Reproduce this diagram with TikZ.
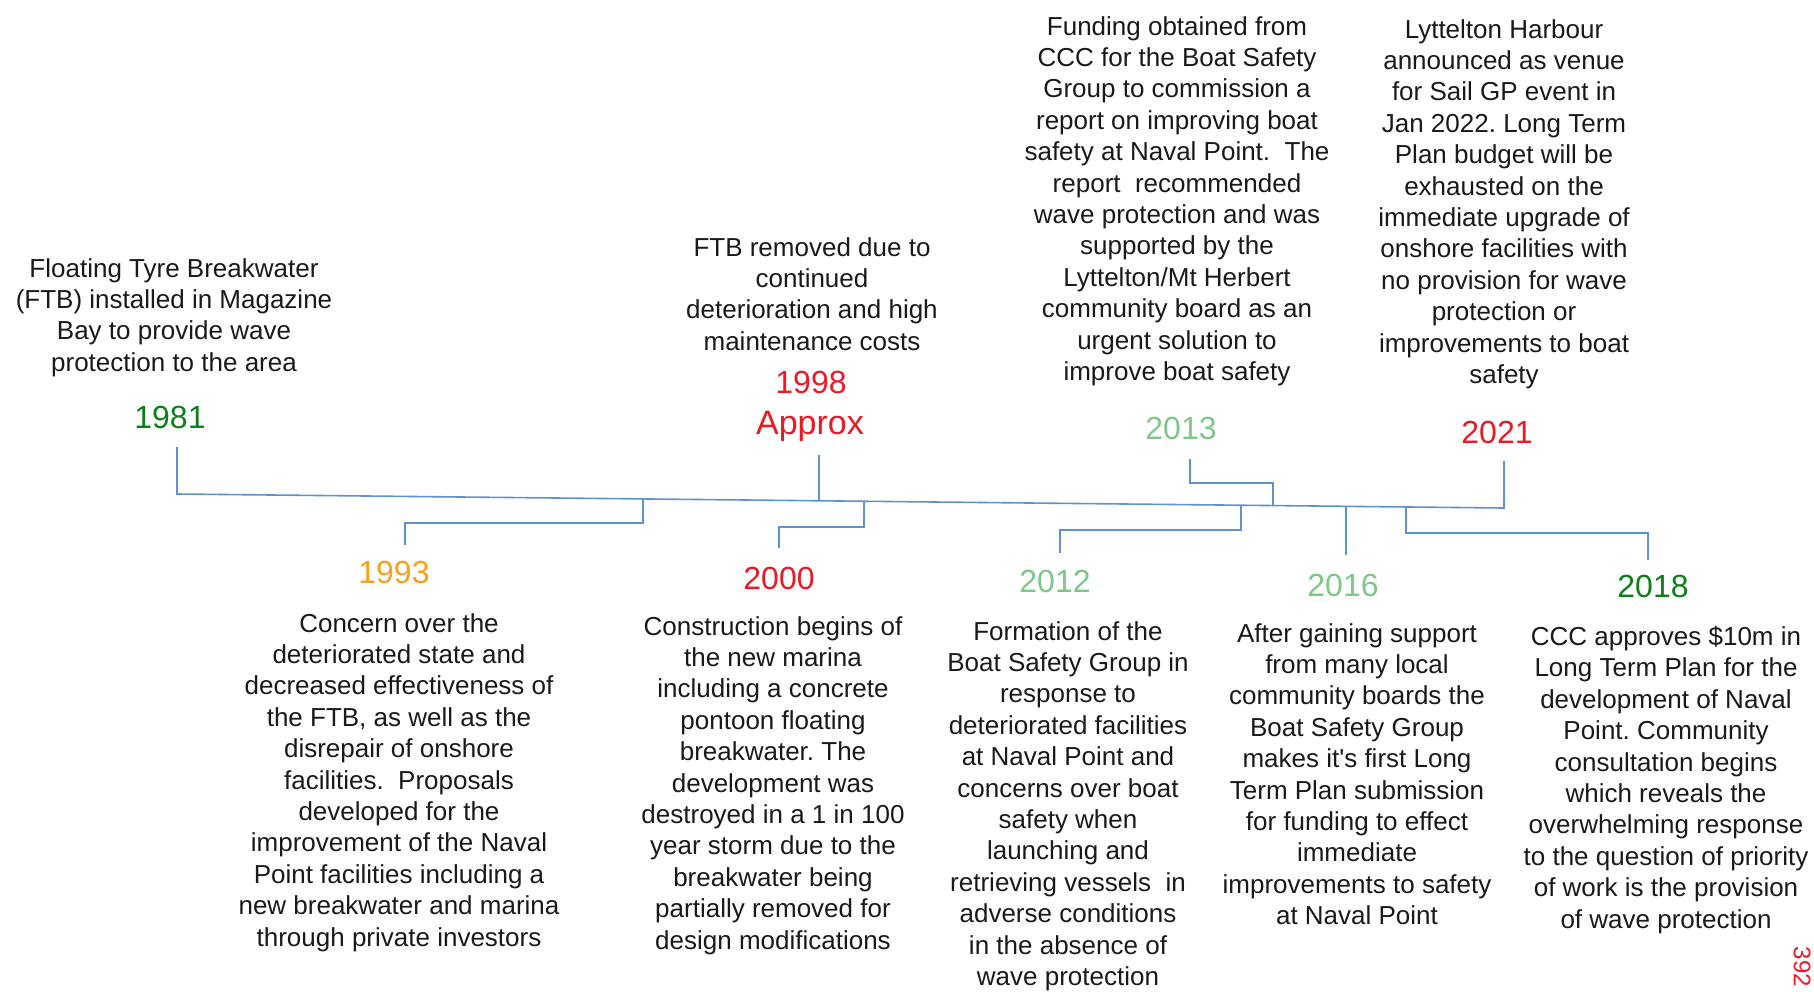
\documentclass[tikz,border=0pt]{standalone}
\usepackage{fontspec}
\setmainfont{Liberation Sans}
\frenchspacing
\definecolor{dkgreen}{RGB}{12,128,24}
\definecolor{yorange}{RGB}{248,160,30}
\definecolor{yred}{RGB}{235,25,35}
\definecolor{ltgreen}{RGB}{125,200,135}
\definecolor{tlblue}{RGB}{95,145,205}
\tikzset{
  desc/.style={font=\fontsize{26}{31.4}\selectfont\frenchspacing, align=center, inner sep=0pt, anchor=north, text=black!90},
  yearlbl/.style={font=\fontsize{32}{38}\selectfont, inner sep=0pt, anchor=base},
  tline/.style={draw=tlblue, line width=1.6pt, line join=miter}
}
\begin{document}
\begin{tikzpicture}[x=1pt,y=-1pt]
\useasboundingbox (0,0) rectangle (1814,991);
% descriptions above
\node[desc] (t1981) at (174,258) {Floating Tyre Breakwater\\(FTB) installed in Magazine\\Bay to provide wave\\protection to the area};
\node[desc] (t1998) at (812,237) {FTB removed due to\\continued\\deterioration and high\\maintenance costs};
\node[desc] (t2013) at (1177,16) {Funding obtained from\\CCC for the Boat Safety\\Group to commission a\\report on improving boat\\safety at Naval Point.~ The\\report~ recommended\\wave protection and was\\supported by the\\Lyttelton/Mt Herbert\\community board as an\\urgent solution to\\improve boat safety};
\node[desc] (t2021) at (1504,19) {Lyttelton Harbour\\announced as venue\\for Sail GP event in\\Jan 2022. Long Term\\Plan budget will be\\exhausted on the\\immediate upgrade of\\onshore facilities with\\no provision for wave\\protection or\\improvements to boat\\safety};
% descriptions below
\node[desc] (t1993) at (399,613) {Concern over the\\deteriorated state and\\decreased effectiveness of\\the FTB, as well as the\\disrepair of onshore\\facilities.~ Proposals\\developed for the\\improvement of the Naval\\Point facilities including a\\new breakwater and marina\\through private investors};
\node[desc] (t2000) at (773,616) {Construction begins of\\the new marina\\including a concrete\\pontoon floating\\breakwater. The\\development was\\destroyed in a 1 in 100\\year storm due to the\\breakwater being\\partially removed for\\design modifications};
\node[desc] (t2012) at (1068,621) {Formation of the\\Boat Safety Group in\\response to\\deteriorated facilities\\at Naval Point and\\concerns over boat\\safety when\\launching and\\retrieving vessels~ in\\adverse conditions\\in the absence of\\wave protection};
\node[desc] (t2016) at (1357,623) {After gaining support\\from many local\\community boards the\\Boat Safety Group\\makes it\textquotesingle s first Long\\Term Plan submission\\for funding to effect\\immediate\\improvements to safety\\at Naval Point};
\node[desc] (t2018) at (1666,626) {CCC approves \$10m in\\Long Term Plan for the\\development of Naval\\Point. Community\\consultation begins\\which reveals the\\overwhelming response\\to the question of priority\\of work is the provision\\of wave protection};
% year labels
\node[yearlbl, text=dkgreen] (y1981) at (170,428) {1981};
\node[yearlbl, text=yred] (y1998) at (811,393) {1998};
\node[yearlbl, text=yred, font=\fontsize{34}{40}\selectfont] (yapprox) at (810,434) {Approx};
\node[yearlbl, text=ltgreen] (y2013) at (1181,439) {2013};
\node[yearlbl, text=yred] (y2021) at (1497,443) {2021};
\node[yearlbl, text=yorange] (y1993) at (394,583) {1993};
\node[yearlbl, text=yred] (y2000) at (779,589) {2000};
\node[yearlbl, text=ltgreen] (y2012) at (1055,592) {2012};
\node[yearlbl, text=ltgreen] (y2016) at (1343,596) {2016};
\node[yearlbl, text=dkgreen] (y2018) at (1653,597) {2018};
% page number
\node[text=yred, font=\fontsize{24}{28}\selectfont, rotate=-90, inner sep=0pt] (pnum) at (1802,967) {392};
% connector coordinates
\coordinate (s1981) at (177,447);
\coordinate (m1981) at (177,494);
\coordinate (s2021) at (1504,461);
\coordinate (m2021) at (1504,508);
\coordinate (m1993) at (643,499);
\coordinate (b1993) at (405,545);
\coordinate (s1998) at (819,455);
\coordinate (m1998) at (819,501);
\coordinate (m2000) at (864,501);
\coordinate (b2000) at (779,548);
\coordinate (s2013) at (1190,459);
\coordinate (m2013) at (1273,506);
\coordinate (m2012) at (1241,505);
\coordinate (b2012) at (1060,553);
\coordinate (m2016) at (1346,506);
\coordinate (b2016) at (1346,555);
\coordinate (m2018) at (1406,507);
\coordinate (b2018) at (1648,560);
% main line
\draw[tline] (s1981) -- (m1981) -- (m2021) -- (s2021);
\draw[tline] (s1998) -- (m1998);
\draw[tline] (m1993) -- ++(0,24) -| (b1993);
\draw[tline] (m2000) -- ++(0,26) -| (b2000);
\draw[tline] (s2013) -- ++(0,24) -| (m2013);
\draw[tline] (m2012) -- ++(0,25) -| (b2012);
\draw[tline] (m2016) -- (b2016);
\draw[tline] (m2018) -- ++(0,26) -| (b2018);
\end{tikzpicture}
\end{document}
